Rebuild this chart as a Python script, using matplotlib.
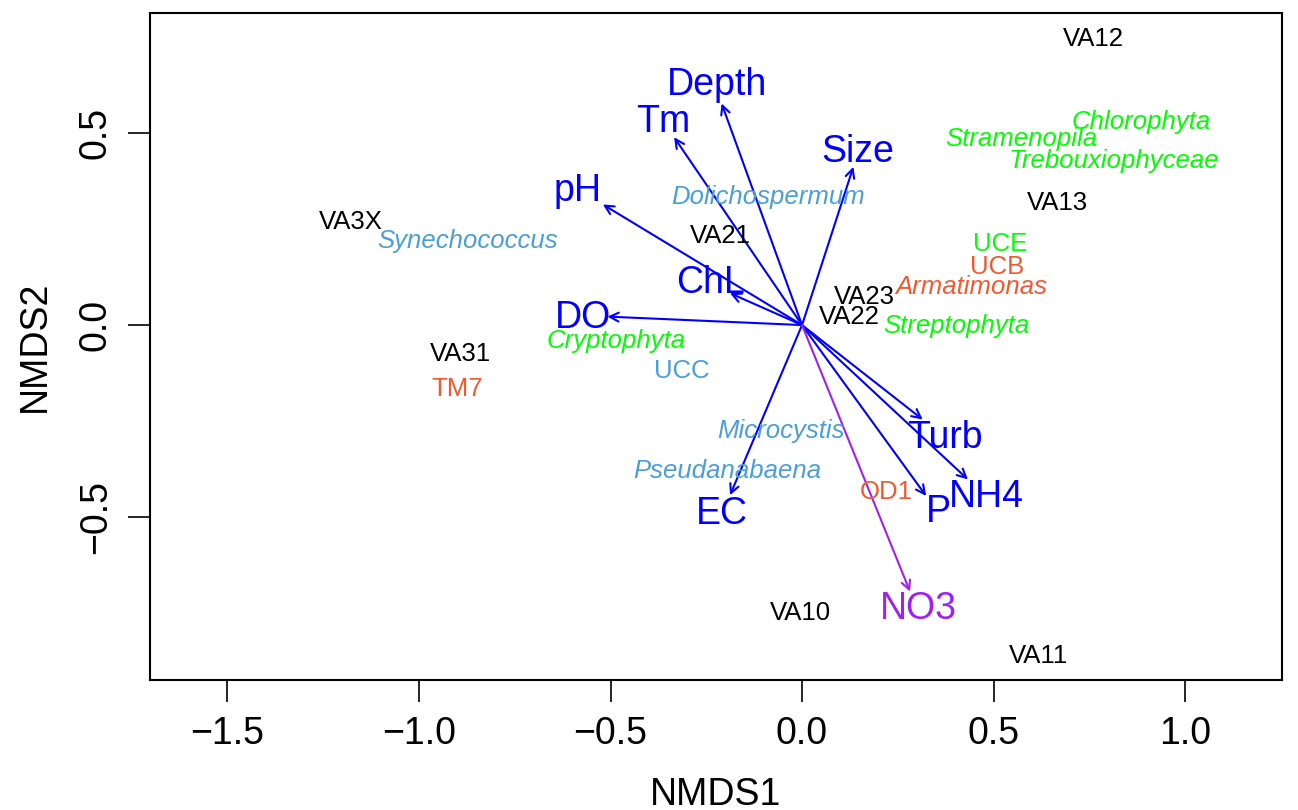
import matplotlib
matplotlib.use("Agg")
import matplotlib.pyplot as plt

plt.rcParams["font.family"] = ["Liberation Sans", "DejaVu Sans"]

# environmental vectors (arrow tip) and label positions
ENV = ["Depth", "Tm", "Size", "pH", "ChL", "DO", "EC", "Turb", "NH4", "P", "NO3"]
ENV_X = [-0.210, -0.334, 0.134, -0.520, -0.188, -0.508, -0.188, 0.315, 0.433, 0.324, 0.282]
ENV_Y = [0.577, 0.489, 0.412, 0.314, 0.083, 0.022, -0.443, -0.246, -0.402, -0.445, -0.694]
ENV_LX = [-0.222, -0.363, 0.146, -0.585, -0.240, -0.572, -0.209, 0.373, 0.480, 0.355, 0.303]
ENV_LY = [0.625, 0.529, 0.451, 0.349, 0.109, 0.018, -0.492, -0.294, -0.448, -0.487, -0.740]
ENV_COL = ["blue"] * 10 + ["#A020F0"]

# sites
SITES = ["VA12", "VA13", "VA3X", "VA21", "VA23", "VA22", "VA31", "VA10", "VA11"]
SITE_X = [0.760, 0.668, -1.178, -0.214, 0.164, 0.123, -0.893, -0.003, 0.616]
SITE_Y = [0.745, 0.318, 0.268, 0.232, 0.073, 0.021, -0.076, -0.750, -0.862]

# taxa
TAXA = ["Chlorophyta", "Stramenopila", "Trebouxiophyceae", "UCE", "UCB", "Armatimonas",
        "Streptophyta", "Dolichospermum", "Synechococcus", "Cryptophyta", "UCC", "TM7",
        "Microcystis", "Pseudanabaena", "OD1"]
TAXA_X = [0.885, 0.572, 0.815, 0.517, 0.509, 0.441, 0.402, -0.089, -0.872, -0.486,
          -0.313, -0.901, -0.055, -0.196, 0.219]
TAXA_Y = [0.529, 0.484, 0.427, 0.211, 0.151, 0.099, -0.003, 0.333, 0.219, -0.042,
          -0.120, -0.167, -0.276, -0.380, -0.435]
GREEN, ORANGE, LBLUE = "#00FF00", "#F05A30", "#4A9FD8"
TAXA_COL = [GREEN, GREEN, GREEN, GREEN, ORANGE, ORANGE, GREEN, LBLUE, LBLUE, GREEN,
            LBLUE, ORANGE, LBLUE, LBLUE, ORANGE]
TAXA_ITALIC = [True, True, True, False, False, True, True, True, True, True,
               False, False, True, True, False]


def main():
    fig = plt.figure(figsize=(12.98, 8.10), dpi=100)
    ax = fig.add_axes([0.1156, 0.1605, 0.8721, 0.8235])
    ax.set_xlim(-1.702, 1.253)
    ax.set_ylim(-0.924, 0.8125)

    for x, y, lx, ly, lab, c in zip(ENV_X, ENV_Y, ENV_LX, ENV_LY, ENV, ENV_COL):
        ax.annotate("", xy=(x, y), xytext=(0, 0),
                    arrowprops=dict(arrowstyle="->", color=c, lw=1.5,
                                    mutation_scale=16, shrinkA=0, shrinkB=0))
        ax.text(lx, ly, lab, color=c, fontsize=27, ha="center", va="center")

    for x, y, lab in zip(SITE_X, SITE_Y, SITES):
        ax.text(x, y, lab, color="black", fontsize=18.5, ha="center", va="center")

    for x, y, lab, c, it in zip(TAXA_X, TAXA_Y, TAXA, TAXA_COL, TAXA_ITALIC):
        ax.text(x, y, lab, color=c, fontsize=18.5, ha="center", va="center",
                style="italic" if it else "normal")

    ax.set_xticks([-1.5, -1.0, -0.5, 0.0, 0.5, 1.0])
    ax.set_xticklabels(["\u22121.5", "\u22121.0", "\u22120.5", "0.0", "0.5", "1.0"])
    ax.set_yticks([-0.5, 0.0, 0.5])
    ax.set_yticklabels(["\u22120.5", "0.0", "0.5"], rotation=90, va="center")
    ax.tick_params(labelsize=27, length=16, width=1.2, pad=10)
    for s in ax.spines.values():
        s.set_linewidth(1.5)
    ax.set_xlabel("NMDS1", fontsize=27, labelpad=18)
    ax.set_ylabel("NMDS2", fontsize=27, labelpad=18)

    fig.savefig("out.png", dpi=100)
    plt.close(fig)


if __name__ == "__main__":
    main()
